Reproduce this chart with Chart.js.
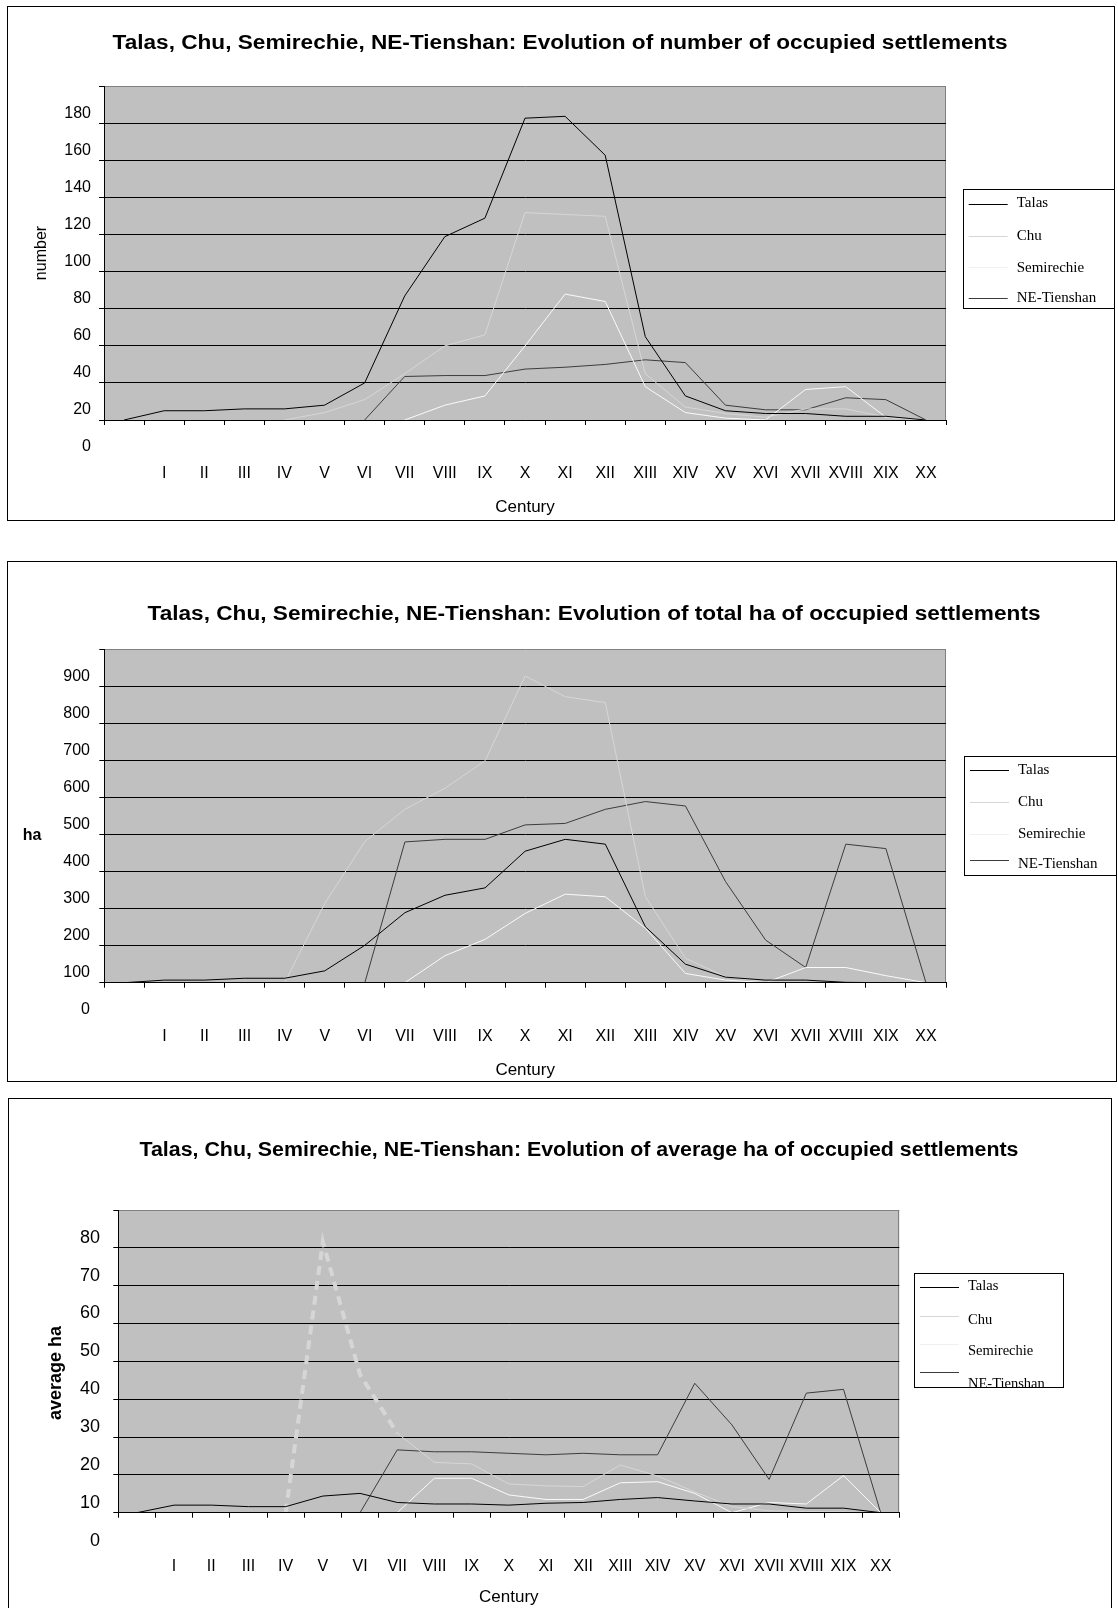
<!DOCTYPE html>
<html lang="en">
<head>
<meta charset="UTF-8">
<title>Talas, Chu, Semirechie, NE-Tienshan</title>
<script src="https://cdn.jsdelivr.net/npm/chart.js"></script>
<style>
  html, body { margin: 0; padding: 0; background: #fff; overflow: hidden; }
  body { width: 1118px; height: 1608px; position: relative; }
  canvas { position: absolute; }
</style>
</head>
<body>
<canvas id="chartNumber" width="1108" height="515" style="left:7px; top:6px"></canvas>
<canvas id="chartTotal" width="1110" height="521" style="left:7px; top:561px"></canvas>
<canvas id="chartAverage" width="1104" height="514" style="left:8px; top:1098px"></canvas>
<script>
// categories (first one has no label)
const centuries = ['', 'I', 'II', 'III', 'IV', 'V', 'VI', 'VII', 'VIII', 'IX', 'X',
  'XI', 'XII', 'XIII', 'XIV', 'XV', 'XVI', 'XVII', 'XVIII', 'XIX', 'XX'];
const seriesNames = ['Talas', 'Chu', 'Semirechie', 'NE-Tienshan'];

// number of occupied settlements
const talasNumber = [20, 25, 25, 26, 26, 28, 40, 87, 119, 129, 183, 184, 163, 65, 33, 25, 23.5, 23.5, 22, 22, 20];
const chuNumber = [null, null, null, null, 20, 24, 31, 45, 60, 66, 132, 131, 130, 45, 27, 23.5, 21.5, 26, 26, 21.5, 20];
const semirechieNumber = [null, null, null, null, null, null, null, 20, 28, 33, 60, 88, 84, 38, 24, 21, 20, 36.5, 38, 21.5, 20];
const tienshanNumber = [null, null, null, null, null, null, 20, 43.5, 44, 44, 47.5, 48.5, 50, 52.5, 51, 28, 25.5, 25.5, 32, 31, 20];

// total ha
const talasHa = [100, 107, 107, 112, 112, 132, 201, 289, 336, 356, 455, 487, 474, 251, 150, 115, 107, 107, 101, 100, 100];
const chuHa = [null, null, null, null, 100, 314, 481, 568, 625, 699, 928, 872, 856, 332, 166, 116, 102, 102, 100, 100, 100];
const semirechieHa = [null, null, null, null, null, null, null, 100, 173, 217, 287, 339, 332, 247, 125, 107, 100, 141, 141, 119, 100];
const tienshanHa = [null, null, null, null, null, null, 100, 480, 487, 487, 526, 530, 568, 589, 577, 373, 215, 141, 474, 462, 100];

// average ha
const talasAvg = [10, 12, 12, 11.6, 11.6, 14.4, 15.1, 12.7, 12.3, 12.3, 12, 12.5, 12.7, 13.5, 14, 13.1, 12.3, 12.3, 11.2, 11.2, 10];
const chuAvg = [null, null, null, null, 10, 81.6, 46.5, 31, 23.3, 22.9, 17.6, 17.1, 16.9, 22.6, 19.7, 15.5, 11.6, 10.5, 10.3, 10.2, 10];
const semirechieAvg = [null, null, null, null, null, null, null, 10, 19.1, 19.1, 14.7, 13.5, 13.5, 17.9, 18.2, 15.1, 10, 12.7, 12.3, 19.8, 10];
const tienshanAvg = [null, null, null, null, null, null, 10, 26.6, 26.1, 26.1, 25.7, 25.3, 25.7, 25.3, 25.3, 44.2, 33.2, 18.8, 41.6, 42.6, 10];

const FONT = '"Liberation Sans", Arial, sans-serif';
Chart.defaults.font.family = FONT;
Chart.defaults.color = '#000';

const lineColors = ['#000000', '#d6d6d6', '#fafafa', '#3c3c3c'];

function datasets(values, extra) {
  return values.map(function (data, i) {
    return Object.assign({
      label: seriesNames[i],
      data: data,
      borderColor: lineColors[i],
      borderWidth: 1,
      pointRadius: 0,
      tension: 0
    }, (extra && extra[i]) || {});
  });
}

// background of the plot, frame, title, axis title, the "0" label and the legend box
function decoration(cfg) {
  return {
    id: 'decoration',
    beforeDraw(chart) {
      const ctx = chart.ctx, a = chart.chartArea;
      ctx.save();
      ctx.fillStyle = '#c0c0c0';
      ctx.fillRect(a.left, a.top, a.right - a.left, a.bottom - a.top);
      ctx.strokeStyle = '#808080';
      ctx.lineWidth = 1;
      const xr = Math.round(a.right) - 0.5;
      ctx.beginPath();
      ctx.moveTo(xr, a.top);
      ctx.lineTo(xr, a.bottom);
      ctx.stroke();
      ctx.restore();
    },
    afterDraw(chart) {
      const ctx = chart.ctx;
      const w = chart.width, h = chart.height;
      ctx.save();

      // title, stretched to the width it has in the original
      ctx.fillStyle = '#000';
      ctx.textAlign = 'center';
      ctx.textBaseline = 'middle';
      ctx.font = 'bold ' + cfg.titleSize + 'px ' + FONT;
      const sx = cfg.titleWidth / ctx.measureText(cfg.title).width;
      ctx.save();
      ctx.translate(cfg.titleX, cfg.titleY);
      ctx.scale(sx, 1);
      ctx.fillText(cfg.title, 0, 0);
      ctx.restore();

      // y axis title
      ctx.font = cfg.yTitleFont + ' ' + FONT;
      if (cfg.yTitleRotate) {
        ctx.save();
        ctx.translate(cfg.yTitleX, cfg.yTitleY);
        ctx.rotate(-Math.PI / 2);
        ctx.fillText(cfg.yTitle, 0, 0);
        ctx.restore();
      } else {
        ctx.fillText(cfg.yTitle, cfg.yTitleX, cfg.yTitleY);
      }

      // label one step below the axis minimum
      const ys = chart.scales.y;
      const step = ys.options.ticks.stepSize;
      const v = ys.min - step;
      ctx.font = ys.options.ticks.font.size + 'px ' + FONT;
      ctx.textAlign = 'right';
      ctx.fillText(String(v), ys.right - ys.options.grid.tickLength - ys.options.ticks.padding,
        ys.getPixelForValue(v) + ys.options.ticks.labelOffset);

      // legend
      const L = cfg.legend;
      ctx.save();
      ctx.fillStyle = '#fff';
      ctx.fillRect(L.x, L.y, L.w, L.h);
      ctx.beginPath();
      ctx.rect(L.x, L.y, L.w, L.h);
      ctx.clip();
      ctx.font = L.font + 'px "Liberation Serif", "Times New Roman", serif';
      ctx.textAlign = 'left';
      chart.data.datasets.forEach(function (ds, i) {
        const ly = Math.round(L.y + L.lines[i]) + 0.5;
        ctx.strokeStyle = ds.borderColor === '#fafafa' ? '#f0f0f0' : ds.borderColor;
        ctx.lineWidth = 1;
        ctx.beginPath();
        ctx.moveTo(L.x + 6, ly);
        ctx.lineTo(L.x + 45, ly);
        ctx.stroke();
        ctx.fillStyle = '#000';
        ctx.fillText(ds.label, L.x + 54, L.y + L.texts[i]);
      });
      ctx.restore();
      ctx.strokeStyle = '#000';
      ctx.lineWidth = 1;
      ctx.strokeRect(Math.round(L.x) + 0.5, Math.round(L.y) + 0.5, Math.round(L.w) - 1, Math.round(L.h) - 1);

      // outer frame
      ctx.strokeRect(0.5, 0.5, w - 1, h - 1);
      ctx.restore();
    }
  };
}

function buildChart(id, data, cfg) {
  return new Chart(document.getElementById(id), {
    type: 'line',
    data: { labels: centuries, datasets: data },
    options: {
      responsive: false,
      animation: false,
      devicePixelRatio: 1,
      layout: { padding: { top: cfg.padTop, right: cfg.padRight, bottom: 0, left: 0 } },
      plugins: { legend: { display: false }, tooltip: { enabled: false } },
      scales: {
        x: {
          type: 'category',
          offset: true,
          grid: { display: true, offset: true, drawOnChartArea: false, tickLength: 5, tickColor: '#000' },
          border: { color: '#000', width: 1, z: 1 },
          ticks: { autoSkip: false, maxRotation: 0, color: '#000', font: { size: 16 }, padding: cfg.xPad },
          title: { display: true, text: 'Century', color: '#000', font: { size: 17 }, padding: { top: 0, bottom: cfg.centuryPad } },
          afterFit: function (s) { s.height = cfg.xHeight; }
        },
        y: {
          min: cfg.min,
          max: cfg.max,
          ticks: {
            stepSize: cfg.step, labelOffset: -10, padding: cfg.yPad, color: '#000', font: { size: cfg.yFont },
            callback: function (v) { return v === cfg.max ? '' : v; }
          },
          grid: {
            color: function (c) { return c.tick && c.tick.value === cfg.max ? '#808080' : '#000'; },
            tickLength: 5, tickColor: '#000'
          },
          border: { color: '#000', width: 1, z: 1 },
          afterFit: function (s) { s.width = cfg.yWidth; }
        }
      }
    },
    plugins: [decoration(cfg)]
  });
}

buildChart('chartNumber',
  datasets([talasNumber, chuNumber, semirechieNumber, tienshanNumber]), {
    title: 'Talas, Chu, Semirechie, NE-Tienshan: Evolution of number of occupied settlements',
    titleSize: 19.5, titleWidth: 895, titleX: 553, titleY: 38,
    yTitle: 'number', yTitleFont: '16px', yTitleRotate: true, yTitleX: 35, yTitleY: 247,
    min: 20, max: 200, step: 20,
    padTop: 80.7, padRight: 169, yWidth: 97, yPad: 8, yFont: 16,
    xHeight: 101, xPad: 39.4, centuryPad: 3.4,
    legend: { x: 955.7, y: 183, w: 153, h: 120, font: 15, lines: [15, 47, 78, 109], texts: [14.5, 47, 79, 109.5] }
  });

buildChart('chartTotal',
  datasets([talasHa, chuHa, semirechieHa, tienshanHa]), {
    title: 'Talas, Chu, Semirechie, NE-Tienshan: Evolution of total ha of occupied settlements',
    titleSize: 19.5, titleWidth: 893, titleX: 587, titleY: 53.5,
    yTitle: 'ha', yTitleFont: 'bold 16px', yTitleRotate: false, yTitleX: 25, yTitleY: 275,
    min: 100, max: 1000, step: 100,
    padTop: 88.3, padRight: 171, yWidth: 97.3, yPad: 9.3, yFont: 16,
    xHeight: 99.3, xPad: 39.2, centuryPad: 1.6,
    legend: { x: 957, y: 195, w: 153, h: 120, font: 15, lines: [14, 46, 78, 104], texts: [14, 46, 78, 108.5] }
  });

buildChart('chartAverage',
  datasets([talasAvg, chuAvg, semirechieAvg, tienshanAvg], [null, {
    segment: {
      borderDash: function (c) { return c.p0DataIndex >= 4 && c.p0DataIndex < 7 ? [9, 6] : undefined; },
      borderWidth: function (c) { return c.p0DataIndex >= 4 && c.p0DataIndex < 7 ? 4 : undefined; }
    }
  }]), {
    title: 'Talas, Chu, Semirechie, NE-Tienshan: Evolution of average ha of occupied settlements',
    titleSize: 19.5, titleWidth: 879, titleX: 571, titleY: 52.5,
    yTitle: 'average ha', yTitleFont: 'bold 18px', yTitleRotate: true, yTitleX: 48, yTitleY: 275,
    min: 10, max: 90, step: 10,
    padTop: 112, padRight: 212.7, yWidth: 110.3, yPad: 13.3, yFont: 18,
    xHeight: 99.3, xPad: 39.5, centuryPad: 4,
    legend: { x: 906, y: 175, w: 150, h: 115, font: 14.5, lines: [14.4, 42.7, 70.7, 99.4], texts: [13.4, 46.7, 78, 111] }
  });
</script>
</body>
</html>
